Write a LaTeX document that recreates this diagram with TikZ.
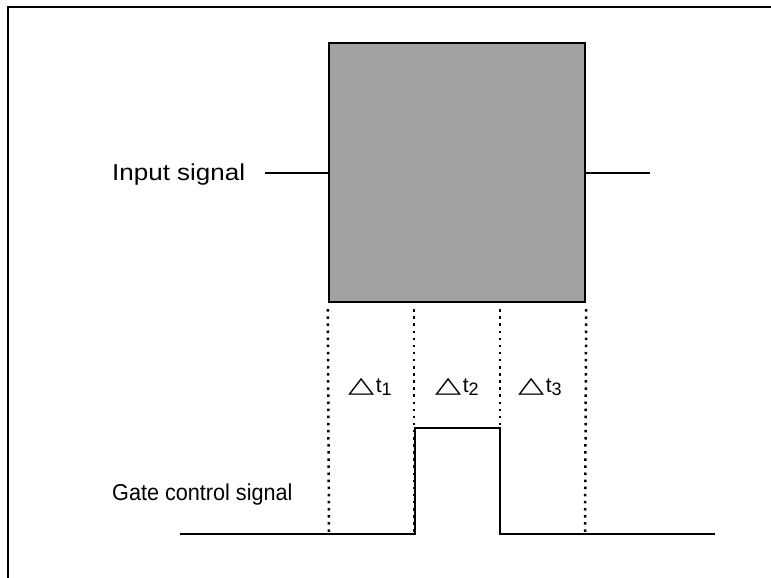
\documentclass[tikz,border=0pt]{standalone}
\usepackage{fontspec}
\setmainfont{Liberation Sans}
\newfontfamily\symfont{DejaVu Sans}
\newcommand{\dtri}{\scalebox{1.62}[1.06]{\symfont △}\hspace{1.5pt}}
\newcommand{\dsub}[1]{\raisebox{-3.5pt}{\fontsize{18}{18}\selectfont #1}}
\begin{document}
\begin{tikzpicture}[x=1pt,y=-1pt,
  lbl/.style={inner sep=0pt,font=\fontsize{23}{26}\selectfont},
  dtl/.style={inner sep=0pt,font=\fontsize{21}{24}\selectfont},
  sig/.style={line width=2.8pt},
  thin/.style={line width=2.1pt},
  dots/.style={line width=2.5pt,dash pattern=on 2.5pt off 4.6pt}]
\useasboundingbox (0,0) rectangle (771,578);
% frame
\draw[line width=2.2pt] (8,578) -- (8,7) -- (771,7);
% shaded box
\node[draw,line width=2.4pt,fill=black!37,minimum width=256pt,minimum height=259pt,inner sep=0pt] (box) at (457,172.5) {};
% input signal
\node[lbl,anchor=base west] (inlbl) at (112,180) {\scalebox{1.13}[1]{Input signal}};
\coordinate (instart) at (265,173);
\draw[thin] (instart) -- (instart -| box.west);
\coordinate (outend) at (650,173);
\draw[thin] (outend -| box.east) -- (outend);
% gate signal
\node[lbl,anchor=base west] (gatelbl) at (112,500) {\scalebox{0.94}[1]{Gate control signal}};
\coordinate (g0) at (180,534);
\coordinate (g1) at (415,534);
\coordinate (g2) at (415,428);
\coordinate (g3) at (500,428);
\coordinate (g4) at (500,534);
\coordinate (g5) at (715,534);
\draw[sig,line join=miter] (g0) -- (g1) -- (g2) -- (g3) -- (g4) -- (g5);
% dotted lines
\coordinate (d1) at (329,534);
\coordinate (d2) at (414,534);
\coordinate (d3) at (500,534);
\coordinate (d4) at (585,534);
\draw[dots] (box.south west) ++(0,6) -- (d1);
\draw[dots] (d2 |- box.south) ++(0,6) -- (d2);
\draw[dots] (d3 |- box.south) ++(0,6) -- (d3);
\draw[dots] (box.south east) ++(0,6) -- (d4);
% delta t labels
\node[dtl,anchor=base west] (dt1) at (348,392) {\dtri t\dsub{1}};
\node[dtl,anchor=base west] (dt2) at (435,392) {\dtri t\dsub{2}};
\node[dtl,anchor=base west] (dt3) at (518,392) {\dtri t\dsub{3}};
\end{tikzpicture}
\end{document}
